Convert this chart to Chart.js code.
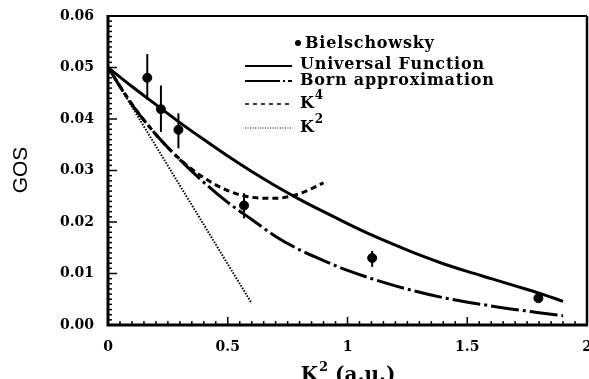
<!DOCTYPE html>
<html><head><meta charset="utf-8">
<script src="https://cdn.jsdelivr.net/npm/chart.js@4/dist/chart.umd.min.js"></script>
<style>html,body{margin:0;background:#fff}#wrap{width:589px;height:379px;overflow:hidden}</style>
</head><body><div id="wrap"><canvas id="c" width="589" height="379"></canvas></div>
<script>
/* ===== data ===== */
const xTicks=[0,0.5,1,1.5,2];
const xTickText=['0','0.5','1','1.5','2'];
const yTicks=[0,0.01,0.02,0.03,0.04,0.05,0.06];

// Bielschowsky measurements with error bars
const expX=[0.164,0.221,0.294,0.568,1.103,1.797];
const expY=[0.0480,0.0419,0.0379,0.0232,0.0130,0.0052];
const expLo=[0.0437,0.0375,0.0343,0.0207,0.0113,0.0047];
const expHi=[0.0526,0.0465,0.0411,0.0256,0.0144,0.0057];

// Universal Function
const uniX=[0,0.1,0.2,0.3,0.4,0.5,0.6,0.7,0.8,0.9,1.0,1.1,1.2,1.3,1.4,1.5,1.6,1.7,1.8,1.9];
const uniY=[0.0500,0.0463,0.0428,0.0393,0.0360,0.0328,0.0298,0.0270,0.0244,0.0220,0.0197,0.0175,0.0155,0.0136,0.0119,0.0104,0.0090,0.0076,0.0062,0.0046];

// Born approximation
const bornX=[0,0.1,0.2,0.3,0.4,0.5,0.6,0.7,0.8,0.9,1.0,1.2,1.4,1.6,1.8,1.9];
const bornY=[0.0500,0.0428,0.0370,0.0321,0.0277,0.0238,0.0205,0.0172,0.0146,0.0125,0.0106,0.0076,0.0053,0.0037,0.0024,0.0018];

// K^4 expansion
const k4X=[0,0.1,0.2,0.3,0.4,0.5,0.6,0.7,0.8,0.9];
const k4Y=[0.0500,0.0429,0.0370,0.0322,0.0286,0.0261,0.0248,0.0246,0.0255,0.0276];

// K^2 expansion
const k2X=[0,0.3,0.6];
const k2Y=[0.0500,0.0271,0.0042];

/* ===== helpers ===== */
const pts=(xs,ys)=>xs.map((x,i)=>({x,y:ys[i]}));
const SERIF='bold 16px "DejaVu Serif"';

/* ===== frame, ticks, error bars, legend, titles ===== */
const deco={id:'deco',
  afterDatasetsDraw(ch){
    const c=ch.ctx,a=ch.chartArea,X=ch.scales.x,Y=ch.scales.y;
    c.save();c.strokeStyle='#000';c.fillStyle='#000';
    // error bars
    c.lineWidth=2;
    expX.forEach((x,i)=>{const px=X.getPixelForValue(x);
      c.beginPath();c.moveTo(px,Y.getPixelForValue(expLo[i]));c.lineTo(px,Y.getPixelForValue(expHi[i]));c.stroke();});
    // frame
    c.lineWidth=2;c.beginPath();c.moveTo(a.left,a.top);c.lineTo(a.right,a.top);c.stroke();
    c.lineWidth=2.5;c.beginPath();c.moveTo(a.right,a.top);c.lineTo(a.right,a.bottom);c.stroke();
    c.lineWidth=3;c.beginPath();c.moveTo(a.left,a.top-1);c.lineTo(a.left,a.bottom);c.lineTo(a.right+1,a.bottom);c.stroke();
    // inner ticks
    c.lineWidth=1.5;
    for(let k=0;k<=60;k++){const py=Y.getPixelForValue(k/1000),L=k%10?4:9;
      c.beginPath();c.moveTo(a.left,py);c.lineTo(a.left+L,py);c.stroke();}
    for(let k=0;k<=40;k++){const px=X.getPixelForValue(k*0.05),L=k%10?4:8;
      c.beginPath();c.moveTo(px,a.bottom);c.lineTo(px,a.bottom-L);c.stroke();}
    // legend
    c.font=SERIF;c.textBaseline='middle';c.textAlign='left';c.letterSpacing='0.8px';
    c.beginPath();c.arc(298,43,3,0,Math.PI*2);c.fill();
    c.fillText('Bielschowsky',305,44);
    c.lineWidth=2;
    c.beginPath();c.moveTo(245,66);c.lineTo(292,66);c.stroke();
    c.fillText('Universal Function',300,65);
    c.beginPath();c.moveTo(245,81);c.lineTo(280,81);c.moveTo(283,81);c.lineTo(285,81);c.moveTo(288,81);c.lineTo(292,81);c.stroke();
    c.fillText('Born approximation',300,81);
    c.lineWidth=1.5;c.setLineDash([4,4]);
    c.beginPath();c.moveTo(245,104);c.lineTo(292,104);c.stroke();
    c.lineWidth=1;c.setLineDash([1,1.5]);
    c.beginPath();c.moveTo(245,128);c.lineTo(292,128);c.stroke();
    c.setLineDash([]);
    const sup=(base,s,x,y)=>{c.font=SERIF;c.fillText(base,x,y);const w=c.measureText(base).width;
      c.font='bold 12px "DejaVu Serif"';c.fillText(s,x+w,y-8);};
    sup('K','4',300,104);
    sup('K','2',300,128);
    c.letterSpacing='0px';
    // axis titles
    c.font='21px "Liberation Sans"';c.textAlign='center';
    c.save();c.translate(21,170);c.rotate(-Math.PI/2);c.fillText('GOS',0,0);c.restore();
    c.textAlign='left';c.textBaseline='alphabetic';
    c.font='bold 20px "DejaVu Serif"';
    const t1='K',t2=' (a.u.)';
    const w1=c.measureText(t1).width;
    c.font='bold 13px "DejaVu Serif"';const ws=c.measureText('2').width;
    c.font='bold 20px "DejaVu Serif"';const w2=c.measureText(t2).width;
    let x0=(a.left+a.right)/2-(w1+ws+w2)/2,yb=381;
    c.fillText(t1,x0,yb);
    c.font='bold 13px "DejaVu Serif"';c.fillText('2',x0+w1+1,yb-10);
    c.font='bold 20px "DejaVu Serif"';c.fillText(t2,x0+w1+ws+1,yb);
    c.restore();
  }};

new Chart(document.getElementById('c'),{
  type:'scatter',
  data:{datasets:[
    {label:'Bielschowsky',data:pts(expX,expY),pointRadius:4.5,pointBackgroundColor:'#000',pointBorderColor:'#000',showLine:false},
    {label:'Universal Function',data:pts(uniX,uniY),showLine:true,borderColor:'#000',borderWidth:3,pointRadius:0,cubicInterpolationMode:'monotone'},
    {label:'Born approximation',data:pts(bornX,bornY),showLine:true,borderColor:'#000',borderWidth:3,pointRadius:0,borderDash:[28,4,3,4],cubicInterpolationMode:'monotone'},
    {label:'K4',data:pts(k4X,k4Y),showLine:true,borderColor:'#000',borderWidth:3,pointRadius:0,borderDash:[6,4],cubicInterpolationMode:'monotone'},
    {label:'K2',data:pts(k2X,k2Y),showLine:true,borderColor:'#000',borderWidth:2,pointRadius:0,borderDash:[1.5,1.5]}
  ]},
  options:{responsive:false,animation:false,devicePixelRatio:1,
    layout:{autoPadding:false,padding:{top:16,right:2,left:0,bottom:0}},
    plugins:{legend:{display:false},tooltip:{enabled:false}},
    scales:{
      x:{type:'linear',min:0,max:2,
        afterFit:s=>{s.height=54;s.paddingLeft=0;s.paddingRight=0;},
        afterBuildTicks:s=>{s.ticks=xTicks.map(v=>({value:v}));},
        grid:{display:false,drawTicks:false},border:{display:false},
        ticks:{padding:14,color:'#000',font:{family:'DejaVu Serif',weight:'bold',size:14},maxRotation:0,
          callback:(v)=>xTickText[xTicks.indexOf(v)]}},
      y:{type:'linear',min:0,max:0.06,
        afterFit:s=>{s.width=108;s.paddingTop=0;s.paddingBottom=0;},
        afterBuildTicks:s=>{s.ticks=yTicks.map(v=>({value:v}));},
        grid:{display:false,drawTicks:false},border:{display:false},
        ticks:{padding:14,color:'#000',font:{family:'DejaVu Serif',weight:'bold',size:14},
          callback:v=>v.toFixed(2)}}
    }},
  plugins:[deco]
});
</script></body></html>
